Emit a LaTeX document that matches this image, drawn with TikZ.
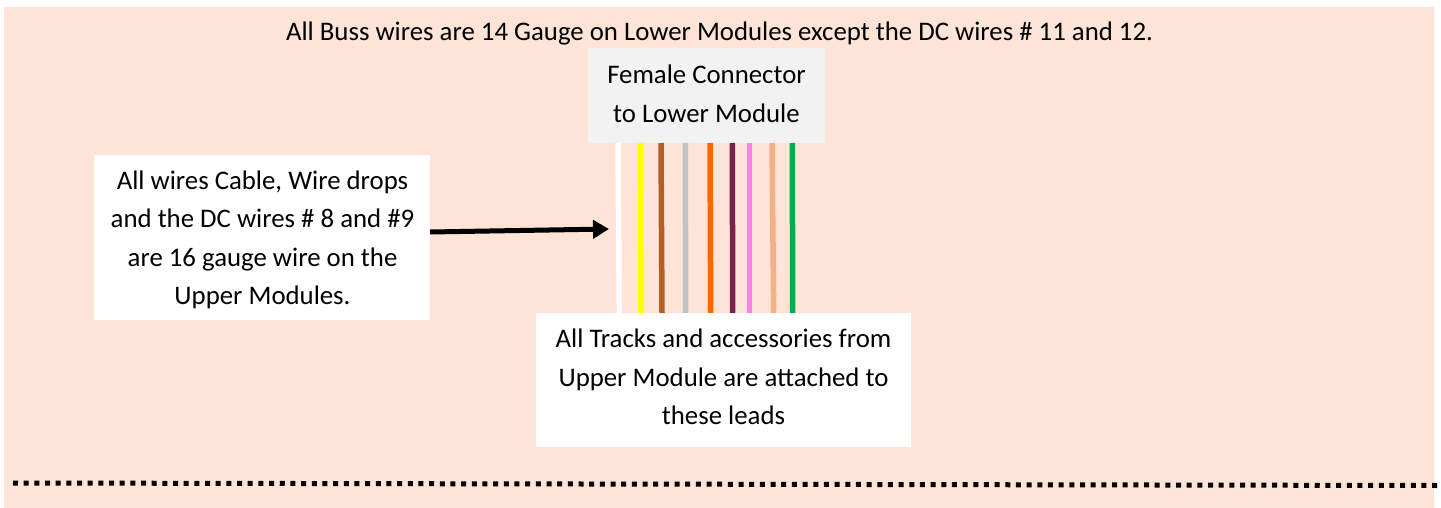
\documentclass[tikz,border=0pt]{standalone}
\usepackage{fontspec}
\setmainfont{Carlito}
\usetikzlibrary{arrows.meta}
\definecolor{bgpeach}{HTML}{FDE4D7}
\definecolor{boxgray}{HTML}{F2F2F2}
\definecolor{wyellow}{HTML}{FFFF00}
\definecolor{wbrown}{HTML}{B55E25}
\definecolor{wgray}{HTML}{C2C2C2}
\definecolor{worange}{HTML}{FF6600}
\definecolor{wpurple}{HTML}{78244F}
\definecolor{wpink}{HTML}{FF80EE}
\definecolor{wpeach}{HTML}{F6B085}
\definecolor{wgreen}{HTML}{00B050}
\tikzset{
  every node/.style={inner sep=0pt,outer sep=0pt,font=\fontsize{26.8}{38.5}\selectfont,align=center},
  wire/.style={line width=5.5pt},
  leader/.style={line width=5pt,-{Triangle[length=16pt,width=18pt]},shorten >=0pt},
  dotrule/.style={line width=5pt,dash pattern=on 5pt off 5.67pt}
}
\begin{document}
\begin{tikzpicture}[x=1pt,y=-1pt]
\useasboundingbox (0,0) rectangle (1441,508);
\fill[bgpeach] (4,7) rectangle (1434,508);
\node (title) at (719.5,34) {All Buss wires are 14 Gauge on Lower Modules except the DC wires \# 11 and 12.};
\fill[boxgray] (588,48) rectangle (825,143);
\node (female) at (706.5,94) {Female Connector\\to Lower Module};
\fill[white] (94,155) rectangle (430,320);
\node (leftbox) at (262.5,240) {All wires Cable, Wire drops\\and the DC wires \# 8 and \#9\\are 16 gauge wire on the\\Upper Modules.};
\coordinate (lefte) at (430,232);
\coordinate (tip) at (609,229);
\draw[leader] (lefte) -- (tip);
\foreach \n/\a/\b/\c in {w1/618/619.3/white,w2/640.3/641/wyellow,w3/661/662/wbrown,w4/685.3/685.7/wgray,w5/710/710.7/worange,w6/732.3/732.7/wpurple,w7/749.3/749.3/wpink,w8/772/773.7/wpeach,w9/792.3/792.7/wgreen}{
  \coordinate (\n t) at (\a,143);
  \coordinate (\n b) at (\b,313);
  \draw[wire,\c] (\n t) -- (\n b);
}
\fill[white] (536,313) rectangle (911,447);
\node (bottombox) at (723.5,377) {All Tracks and accessories from\\Upper Module are attached to\\these leads};
\coordinate (dl) at (13,483);
\coordinate (dr) at (1437,485.5);
\draw[dotrule] (dl) -- (dr);
\end{tikzpicture}
\end{document}
